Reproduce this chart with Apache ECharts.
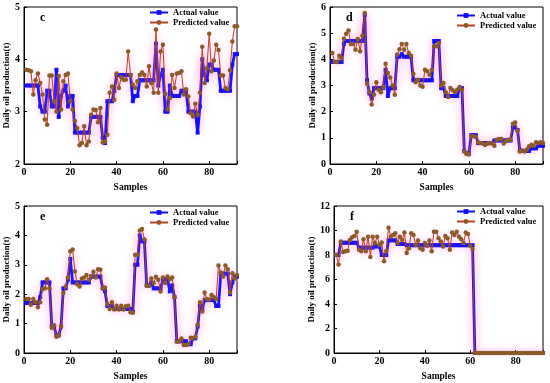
<!DOCTYPE html>
<html>
<head>
<meta charset="utf-8">
<script src="https://cdn.jsdelivr.net/npm/echarts@6/dist/echarts.min.js"></script>
<style>html,body{margin:0;padding:0;background:#fff}#c{width:550px;height:383px}</style>
</head>
<body>
<div id="c"></div>
<script>
// ---- data (sample index 1..92) ----
const cActual = [3.5,3.5,3.5,3.5,3.5,3.5,3.1,3.0,3.0,3.4,3.4,3.1,3.1,3.8,2.9,3.3,3.4,3.5,3.1,3.3,3.3,2.6,2.6,2.6,2.6,2.6,2.6,2.6,2.9,2.9,2.9,2.9,2.9,2.5,2.4,3.2,3.2,3.2,3.4,3.7,3.7,3.7,3.7,3.7,3.7,3.7,3.2,3.3,3.3,3.6,3.6,3.6,3.6,3.6,3.6,3.6,4.3,3.5,3.7,3.8,3.0,3.0,3.5,3.3,3.3,3.3,3.3,3.4,3.4,3.4,3.0,3.0,3.0,3.0,2.6,3.1,4.0,3.7,3.6,3.9,3.9,3.8,3.8,3.8,3.4,3.4,3.4,3.4,3.4,3.9,4.1,4.1];
const cPred = [3.80,3.79,3.77,3.33,3.60,3.73,3.55,3.33,2.85,2.75,3.69,3.69,3.20,3.00,3.68,3.04,3.58,3.70,3.73,3.20,3.04,2.82,2.69,2.36,2.40,2.72,2.36,2.43,2.94,3.04,3.03,2.80,3.07,2.41,2.43,2.56,3.36,3.48,3.23,3.73,3.45,3.66,3.61,3.61,4.15,3.70,3.52,3.45,3.58,3.70,3.75,3.70,3.48,3.87,3.55,3.36,4.57,3.36,4.15,4.28,3.34,3.04,3.26,3.70,3.45,3.73,3.74,3.77,3.33,3.43,3.29,2.97,2.91,3.15,2.94,3.36,4.24,3.55,3.83,4.49,3.77,3.98,4.28,4.18,3.69,3.69,3.45,3.43,3.79,4.34,4.63,4.63];
const dActual = [3.9,3.9,3.9,3.9,3.9,4.6,4.7,4.7,4.7,4.7,4.7,4.7,4.7,4.7,5.7,3.2,2.7,2.5,2.9,2.9,2.9,2.9,2.9,3.6,2.6,2.9,2.9,2.9,4.1,4.1,4.2,4.1,4.1,4.1,4.1,3.2,3.2,3.2,3.2,3.2,3.2,3.2,3.2,3.2,4.7,4.7,4.7,2.9,2.9,2.6,2.6,2.6,2.6,2.6,2.6,2.9,2.9,0.5,0.4,0.4,1.1,1.1,1.1,0.8,0.8,0.8,0.8,0.8,0.8,0.8,0.9,0.9,0.9,0.9,0.9,0.9,0.9,0.9,1.4,1.4,1.3,0.5,0.5,0.5,0.5,0.5,0.6,0.6,0.6,0.7,0.7,0.7];
const dPred = [4.24,3.91,3.90,4.14,4.03,4.79,4.98,5.10,4.59,4.59,4.37,4.78,4.31,4.90,5.77,3.07,2.75,2.27,2.65,3.12,2.84,2.74,2.94,3.83,3.48,3.31,3.00,2.65,4.18,4.39,4.59,4.37,4.59,4.24,4.14,3.45,3.12,3.22,3.00,2.95,3.60,3.54,3.41,3.60,4.50,4.50,4.62,3.00,3.10,2.74,2.56,2.90,2.82,2.74,2.84,2.94,2.84,0.48,0.39,0.36,1.06,1.06,1.03,0.83,0.80,0.78,0.73,0.78,0.80,0.78,0.70,0.93,0.96,0.96,0.78,0.87,0.93,0.93,1.54,1.59,1.27,0.48,0.52,0.48,0.55,0.68,0.74,0.70,0.83,0.80,0.83,0.80];
const eActual = [1.7,1.7,1.7,1.7,1.7,1.7,1.9,2.4,2.4,2.4,2.4,0.9,0.9,0.6,0.6,0.9,2.2,2.2,2.5,3.2,2.4,2.4,2.4,2.4,2.4,2.4,2.4,2.4,2.6,2.6,2.6,2.6,2.6,2.2,2.1,1.6,1.6,1.6,1.5,1.5,1.5,1.5,1.5,1.5,1.5,1.5,1.4,3.0,3.0,4.0,3.8,3.8,2.3,2.3,2.4,2.2,2.2,2.2,2.2,2.5,2.5,2.5,2.1,2.3,1.9,0.4,0.4,0.4,0.4,0.4,0.3,0.3,0.5,0.5,0.9,1.6,1.5,1.8,1.8,1.8,1.8,1.8,1.6,1.6,2.7,2.7,2.7,2.7,2.0,2.4,2.6,2.6];
const ePred = [1.84,1.84,1.64,1.84,1.73,1.56,1.73,2.17,2.20,2.51,2.20,0.86,0.94,0.55,0.60,0.91,2.04,2.26,2.57,3.46,3.52,2.77,2.34,2.26,2.53,2.57,2.65,2.49,2.62,2.76,2.57,2.85,2.83,2.20,2.23,1.67,1.50,1.73,1.48,1.61,1.48,1.61,1.48,1.59,1.61,1.39,1.37,3.34,3.34,4.17,4.22,3.86,2.29,2.29,2.53,2.38,2.59,2.49,2.09,2.57,2.38,2.60,2.51,2.57,1.90,0.38,0.40,0.49,0.27,0.27,0.30,0.52,0.49,0.55,0.96,1.73,1.41,2.06,1.84,1.82,1.97,1.90,1.84,2.98,2.74,2.60,2.98,2.85,2.06,2.71,2.53,2.65];
const fActual = [8.0,8.0,9.0,9.0,9.0,9.0,9.0,9.0,9.0,9.0,8.6,8.6,8.6,8.6,8.6,8.6,8.6,8.7,8.7,8.7,8.0,8.0,8.0,9.2,9.2,9.2,9.2,8.9,8.9,8.9,8.9,8.8,8.8,8.8,8.8,8.8,8.8,8.8,8.8,8.8,8.8,8.8,8.8,8.8,8.8,8.8,8.8,8.8,8.8,8.8,8.8,8.8,8.8,8.8,8.8,8.8,8.8,8.8,8.8,8.8,8.8,0,0,0,0,0,0,0,0,0,0,0,0,0,0,0,0,0,0,0,0,0,0,0,0,0,0,0,0,0,0,0];
const fPred = [8.03,7.22,9.10,8.24,8.30,8.35,9.23,9.45,9.56,9.90,8.43,8.30,9.29,8.30,9.50,7.84,9.50,8.97,9.50,8.83,9.02,7.49,8.30,10.23,9.50,9.64,9.77,8.97,9.50,9.23,9.83,8.16,8.56,9.77,9.64,8.83,9.18,8.56,8.43,8.97,8.75,9.18,8.30,9.90,9.90,9.37,9.10,8.70,9.56,9.37,8.43,9.83,9.64,9.90,9.50,9.29,8.97,9.83,9.72,8.75,8.48,0,0,0,0,0,0,0,0,0,0,0,0,0,0,0,0,0,0,0,0,0,0,0,0,0,0,0,0,0,0,0];
const panelLetters = ['c','d','e','f'];
const yRanges = [[2,5,1],[0,6,1],[0,5,1],[0,12,2]];
const xTicks = [0,20,40,60,80];

const FONT = '"Liberation Serif","Times New Roman",serif';
const panels = [[cActual,cPred],[dActual,dPred],[eActual,ePred],[fActual,fPred]];
const grids = [
  {left:24, top:7, width:213, height:157},
  {left:330, top:7, width:213, height:157},
  {left:24, top:206, width:213, height:149},
  {left:334, top:206, width:209, height:149}
];
const legendPos = [[149,8],[456,11],[149,208],[456,207]];
const toXY = arr => arr.map((v,i)=>[i+1, v]);

const option = {
  backgroundColor:'#fff',
  animation:false,
  grid: grids.map(g=>Object.assign({show:true, borderColor:'#000', borderWidth:1, backgroundColor:'transparent'}, g)),
  xAxis: grids.map((g,i)=>({
    type:'value', gridIndex:i, min:0, max:92, interval:20,
    name:'Samples', nameLocation:'middle', nameGap:19,
    nameTextStyle:{fontFamily:FONT, fontWeight:'bold', fontSize:9.5, color:'#000'},
    axisLine:{show:true, lineStyle:{color:'#000', width:1}},
    axisTick:{show:true, inside:true, length:3, lineStyle:{color:'#000'}},
    axisLabel:{fontFamily:FONT, fontWeight:'bold', fontSize:10, color:'#000', margin:3,
      formatter: v => xTicks.includes(v) ? String(v) : ''},
    splitLine:{show:false}
  })),
  yAxis: grids.map((g,i)=>({
    type:'value', gridIndex:i, min:yRanges[i][0], max:yRanges[i][1], interval:yRanges[i][2],
    name:'Daily oil production(t)', nameLocation:'middle', nameGap:9,
    nameTextStyle:{fontFamily:FONT, fontWeight:'bold', fontSize:9, color:'#000'},
    axisLine:{show:true, lineStyle:{color:'#000', width:1}},
    axisTick:{show:true, inside:true, length:3, lineStyle:{color:'#000'}},
    axisLabel:{fontFamily:FONT, fontWeight:'bold', fontSize:10, color:'#000', margin:4},
    splitLine:{show:false}
  })),
  legend: grids.map((g,i)=>({
    data:['Actual value','Predicted value'],
    orient:'vertical',
    left: legendPos[i][0], top: legendPos[i][1],
    itemWidth:18, itemHeight:6, itemGap:1, padding:0,
    textStyle:{fontFamily:FONT, fontWeight:'bold', fontSize:8.5, color:'#000'},
    selectedMode:false
  })),
  series: []
};
panels.forEach((p,i)=>{
  option.series.push({
    name:'Actual value', type:'line', xAxisIndex:i, yAxisIndex:i,
    data: toXY(p[0]), symbol:'rect', symbolSize:4, showSymbol:true,
    itemStyle:{color:'#1010f0'},
    lineStyle:{color:'#1010f0', width:2.8, shadowColor:'rgba(255,110,220,0.6)', shadowBlur:9},
    z:2
  });
  option.series.push({
    name:'Predicted value', type:'line', xAxisIndex:i, yAxisIndex:i,
    data: toXY(p[1]), symbol:'circle', symbolSize:4.5, showSymbol:true,
    itemStyle:{color:'#8b5a2b'},
    lineStyle:{color:'#b8401e', width:1, shadowColor:'rgba(255,110,220,0.65)', shadowBlur:9},
    z:3
  });
});
option.graphic = grids.map((g,i)=>({
  type:'text', left:g.left + 16, top:g.top + 5,
  style:{text:panelLetters[i], font:'bold 12px '+FONT, fill:'#000'}
}));
const chart = echarts.init(document.getElementById('c'), null, {renderer:'canvas'});
chart.setOption(option);
</script>
</body>
</html>
